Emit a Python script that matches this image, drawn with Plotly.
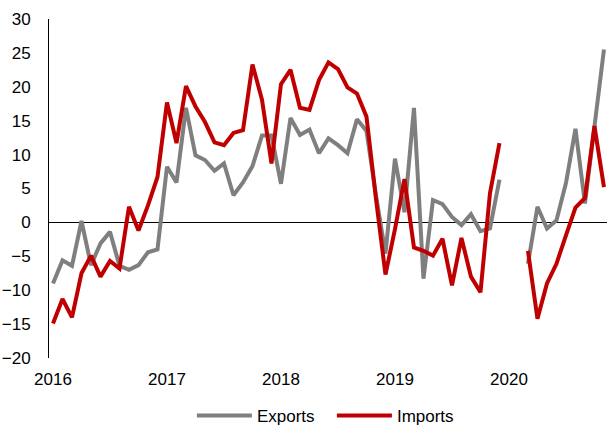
import plotly.graph_objects as go

# monthly index, Jan 2016 (0) .. Nov 2020 (58); Jan/Feb 2020 not reported
months = list(range(59))

exports = [
    -9.0, -5.6, -6.4, 0.2, -6.3, -3.1, -1.4, -6.4, -7.0, -6.3, -4.4, -4.0,
    8.2, 5.9, 16.9, 9.9, 9.2, 7.6, 8.7, 4.0, 5.9, 8.3, 12.8, 12.8,
    5.7, 15.4, 12.9, 13.7, 10.2, 12.4, 11.4, 10.2, 15.2, 13.5, 4.0, -4.6,
    9.4, 1.5, 16.9, -8.3, 3.3, 2.7, 0.8, -0.4, 1.2, -1.3, -0.9, 6.3,
    None, None, -6.1, 2.3, -0.9, 0.3, 5.8, 13.8, 2.8, 14.1, 25.5,
]
imports = [
    -14.9, -11.3, -14.0, -7.5, -4.9, -8.0, -5.7, -6.8, 2.3, -1.2, 2.5, 6.7,
    17.7, 11.7, 20.1, 17.1, 14.8, 11.8, 11.4, 13.2, 13.6, 23.3, 18.1, 8.7,
    20.4, 22.5, 16.9, 16.6, 21.0, 23.6, 22.6, 19.9, 19.0, 15.6, 3.5, -7.7,
    -1.0, 6.4, -3.7, -4.2, -4.9, -2.4, -9.3, -2.3, -8.0, -10.3, 4.3, 11.7,
    None, None, -4.2, -14.2, -9.0, -6.1, -1.9, 2.2, 3.6, 14.2, 5.2,
]

year_labels = ["2016", "2017", "2018", "2019", "2020"]
year_pos = [0, 12, 24, 36, 48]

GREY = "#7f7f7f"
RED = "#c00000"
FONT = dict(family="Liberation Sans, Arial, sans-serif", size=17, color="#000000")

fig = go.Figure()
fig.add_trace(go.Scatter(x=months, y=exports, name="Exports", mode="lines",
                         line=dict(color=GREY, width=4)))
fig.add_trace(go.Scatter(x=months, y=imports, name="Imports", mode="lines",
                         line=dict(color=RED, width=4)))

fig.update_layout(
    width=609, height=426,
    margin=dict(l=49, r=2, t=19, b=68),
    paper_bgcolor="white", plot_bgcolor="white",
    font=FONT,
    showlegend=True,
    legend=dict(orientation="h", xref="container", yref="container",
                x=0.545, xanchor="center", y=0.0235, yanchor="middle",
                itemwidth=55, entrywidth=70, traceorder="normal"),
)
fig.update_xaxes(range=[-0.42, 58.32], tickvals=year_pos, ticktext=year_labels,
                 showgrid=False, zeroline=False, showline=False, ticks="",
                 ticklabelstandoff=9)
fig.update_yaxes(range=[-20, 30], dtick=5, showgrid=False,
                 zeroline=True, zerolinecolor="#000000", zerolinewidth=1,
                 showline=True, linecolor="#000000", linewidth=1,
                 ticks="", ticklabelstandoff=14)

fig.write_html("out.html", config={"displayModeBar": False},
               post_script="document.body.style.margin='0';")
